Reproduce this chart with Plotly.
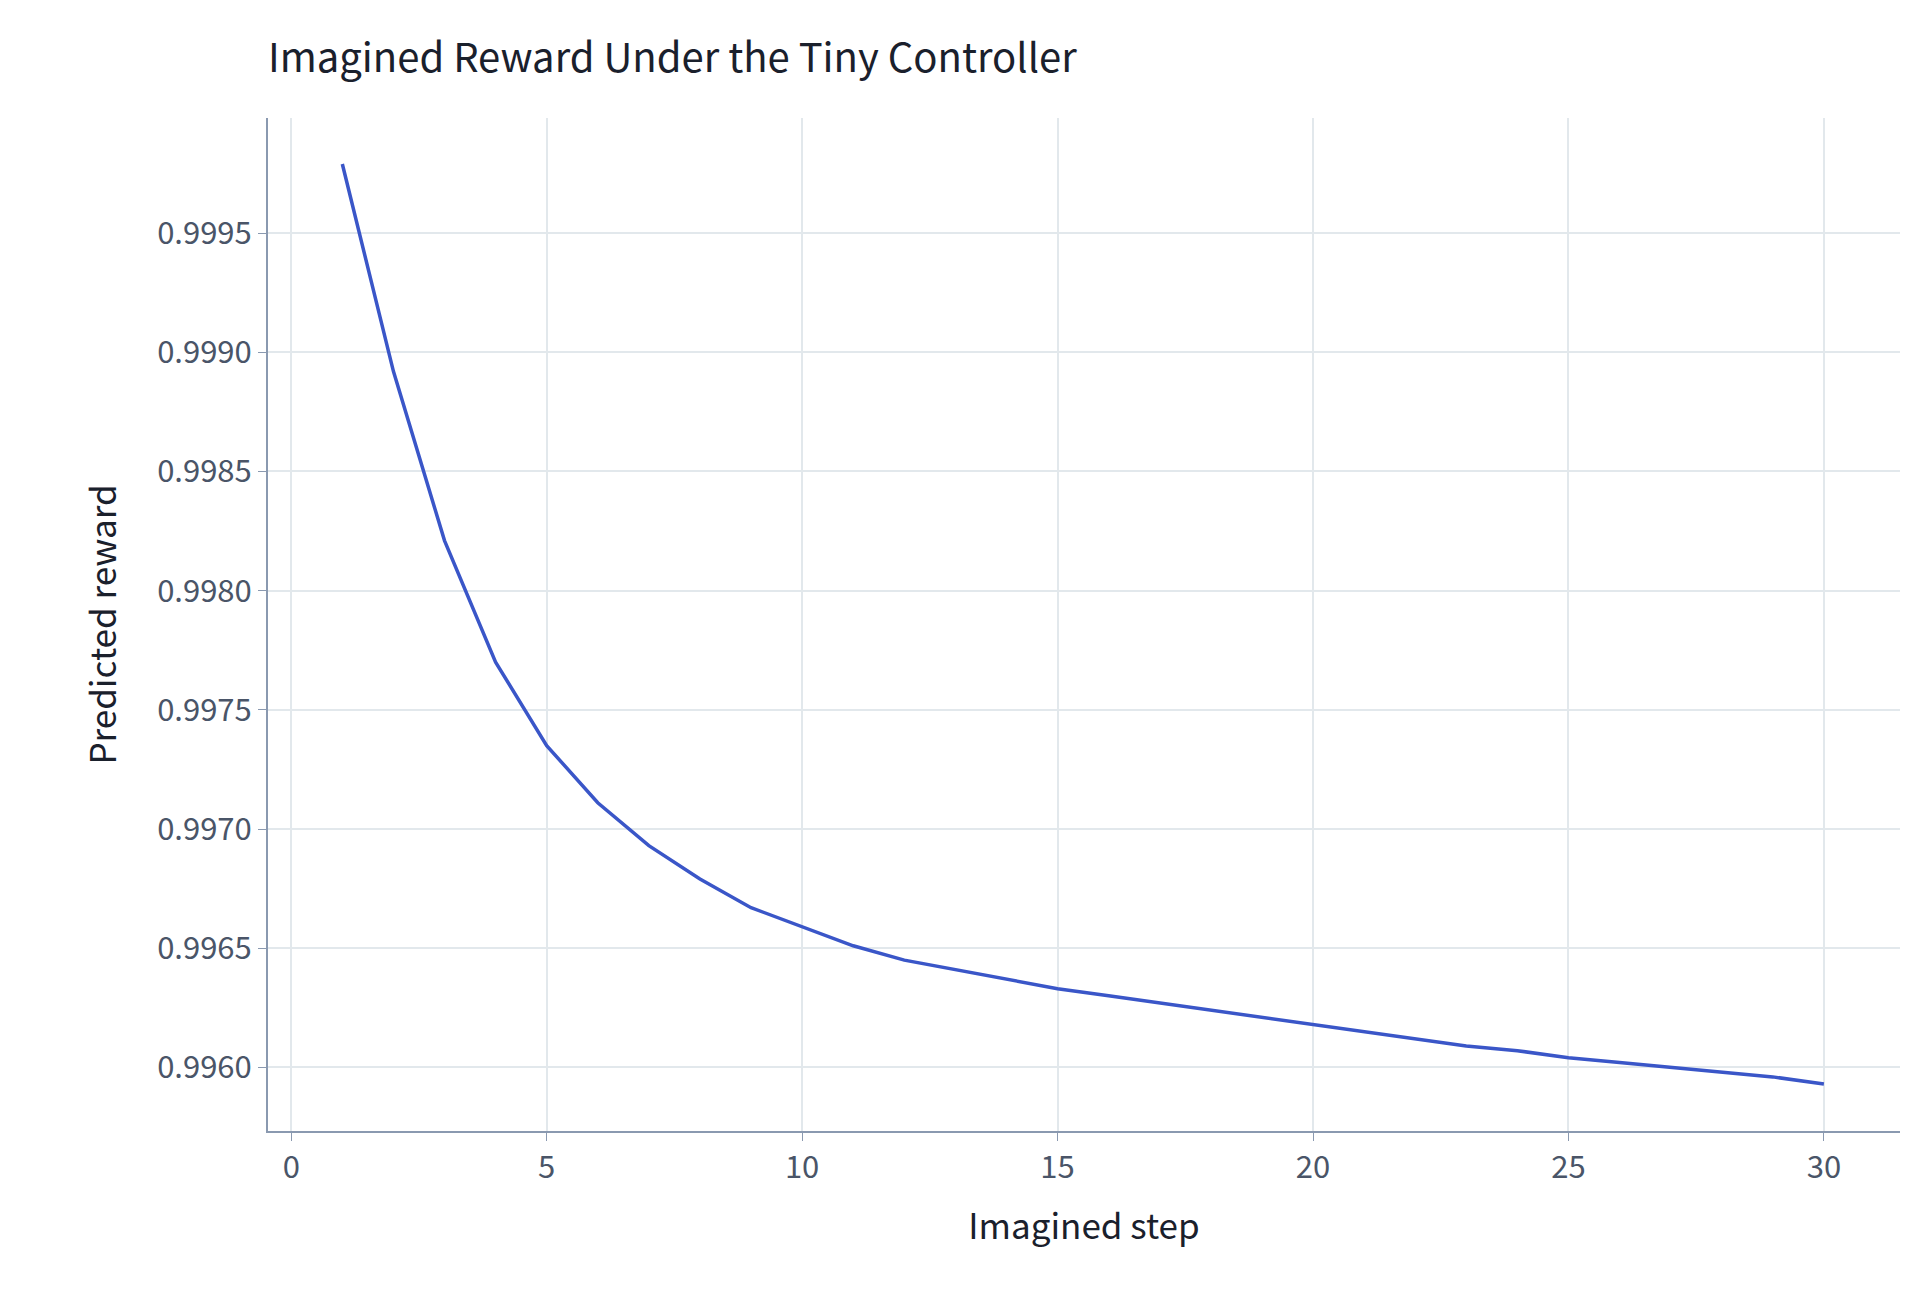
import plotly.graph_objects as go

steps = list(range(1, 31))
reward = [0.99979, 0.99892, 0.99821, 0.99770, 0.99735, 0.99711, 0.99693, 0.99679, 0.99667, 0.99659,
          0.99651, 0.99645, 0.99641, 0.99637, 0.99633, 0.99630, 0.99627, 0.99624, 0.99621, 0.99618,
          0.99615, 0.99612, 0.99609, 0.99607, 0.99604, 0.99602, 0.99600, 0.99598, 0.99596, 0.99593]
xticks = [0, 5, 10, 15, 20, 25, 30]
yticks = [0.9960, 0.9965, 0.9970, 0.9975, 0.9980, 0.9985, 0.9990, 0.9995]

font = "Noto Sans CJK KR, Noto Sans, sans-serif"
fig = go.Figure(go.Scatter(x=steps, y=reward, mode="lines",
                           line=dict(color="#3a56c8", width=3.5)))
fig.update_layout(
    width=1920, height=1292, plot_bgcolor="white", paper_bgcolor="white",
    margin=dict(l=260, r=28, t=110, b=169),
    font=dict(family=font, color="#4a5568", size=31),
    title=dict(text="Imagined Reward Under the Tiny Controller", x=260/1920, xanchor="left",
               y=1-50/1292, yanchor="middle", font=dict(size=40, color="#1a202c")),
    showlegend=False,
)
axis = dict(showgrid=True, gridcolor="#e2e8ec", gridwidth=1.5, showline=True, linecolor="#8a99b0",
            linewidth=2, ticks="outside", tickcolor="#8a99b0", ticklen=8, zeroline=False)
fig.update_xaxes(**axis, range=[-0.455, 31.49], tickvals=xticks,
                 title=dict(text="Imagined step", font=dict(size=35, color="#1a202c"), standoff=28))
fig.update_yaxes(**axis, range=[0.995733, 0.999983], tickvals=yticks, tickformat=".4f",
                 title=dict(text="Predicted reward", font=dict(size=35, color="#1a202c"), standoff=30))
fig.write_html("out.html")
